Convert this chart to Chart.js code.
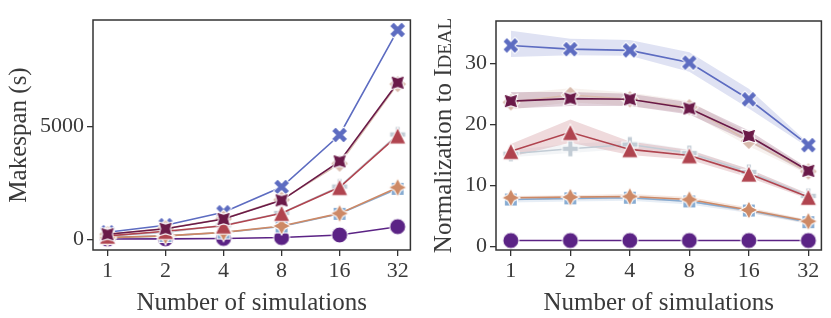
<!DOCTYPE html>
<html><head><meta charset="utf-8">
<script src="https://cdn.jsdelivr.net/npm/chart.js@4"></script>
<style>html,body{margin:0;padding:0;background:#fff;overflow:hidden}
#l{position:absolute;left:0;top:0}#r{position:absolute;left:420px;top:0}</style>
</head><body>
<canvas id="l" width="420" height="318"></canvas>
<canvas id="r" width="411" height="318"></canvas>
<script>
// ---------- data ----------
const xLabels = ['1', '2', '4', '8', '16', '32'];
const seriesNames = ['Ideal', 'Series B', 'Series C', 'Series D', 'Series E', 'Series F', 'Series G', 'Series H'];
const seriesColors = ['#5b2385', '#5d6cc1', '#86abd2', '#c2ccd5', '#d9bcae', '#cd8966', '#b0444f', '#6a1a48'];
const seriesMarkers = ['circle', 'x', 'square', 'plus', 'diamond', 'star', 'tri', 'starx'];

// Makespan (s)
const makespanIdeal = [10, 19, 38, 77, 192, 560];
const makespanB = [312, 625, 1200, 2320, 4630, 9290];
const makespanC = [73, 150, 300, 570, 1130, 2240];
const makespanD = [145, 309, 626, 1170, 2340, 4650];
const makespanE = [224, 478, 907, 1755, 3360, 6890];
const makespanF = [74, 154, 307, 593, 1150, 2300];
const makespanG = [150, 360, 600, 1160, 2310, 4600];
const makespanH = [226, 465, 900, 1730, 3460, 6950];

// Normalization to Ideal (mean)
const normIdeal = [1, 1, 1, 1, 1, 1];
const normB = [32.9, 32.3, 32.1, 30.1, 24.1, 16.6];
const normC = [7.7, 7.9, 8.0, 7.4, 5.9, 4.0];
const normD = [15.2, 16.0, 16.7, 15.3, 12.2, 8.3];
const normE = [23.6, 24.8, 24.1, 22.8, 17.3, 12.3];
const normF = [8.0, 8.1, 8.2, 7.7, 6.0, 4.15];
const normG = [15.6, 18.7, 15.9, 14.9, 11.9, 8.1];
const normH = [23.8, 24.2, 24.1, 22.6, 18.1, 12.4];

// Confidence bands (upper / lower)
const bandHiB = [35.3, 34.0, 33.8, 31.8, 25.8, 16.9];
const bandLoB = [31.0, 31.3, 31.2, 28.6, 22.6, 16.2];
const bandHiC = [8.0, 8.2, 8.3, 7.7, 6.2, 4.3];
const bandLoC = [7.2, 7.4, 7.5, 6.9, 5.5, 3.7];
const bandHiD = [15.8, 16.8, 17.4, 15.9, 12.7, 8.7];
const bandLoD = [14.6, 15.3, 16.0, 14.7, 11.6, 7.9];
const bandHiE = [25.0, 25.9, 25.2, 23.8, 18.5, 12.8];
const bandLoE = [22.4, 23.6, 23.0, 21.8, 16.4, 11.8];
const bandHiF = [8.3, 8.4, 8.6, 8.1, 6.4, 4.4];
const bandLoF = [7.6, 7.7, 7.8, 7.3, 5.6, 3.8];
const bandHiG = [16.8, 20.8, 17.2, 15.8, 12.7, 8.6];
const bandLoG = [14.7, 17.0, 15.0, 14.2, 11.3, 7.8];
const bandHiH = [25.3, 25.3, 25.0, 23.6, 19.0, 12.8];
const bandLoH = [22.6, 23.0, 23.0, 21.6, 17.1, 11.9];

const leftTicks = [0, 5000];
const rightTicks = [0, 10, 20, 30];

const makespanSeries = [makespanIdeal, makespanB, makespanC, makespanD, makespanE, makespanF, makespanG, makespanH];
const normSeries = [normIdeal, normB, normC, normD, normE, normF, normG, normH];
const bandHi = [null, bandHiB, bandHiC, bandHiD, bandHiE, bandHiF, bandHiG, bandHiH];
const bandLo = [null, bandLoB, bandLoC, bandLoD, bandLoE, bandLoF, bandLoG, bandLoH];

// ---------- styling ----------
const FONT = "'Liberation Serif', 'Times New Roman', serif";
const TEXT = '#3a3a3a';
const MS = 1.15; // marker scale

function marker(shape, color) {
  const S = 28, c = document.createElement('canvas');
  c.width = S; c.height = S;
  const g = c.getContext('2d');
  g.translate(S / 2, S / 2);
  g.scale(MS, MS);
  g.fillStyle = color; g.strokeStyle = '#ffffff'; g.lineWidth = 0.9; g.lineJoin = 'miter';
  g.beginPath();
  const poly = (pts, rot) => {
    const cr = Math.cos(rot || 0), sr = Math.sin(rot || 0);
    pts.forEach((p, i) => {
      const x = p[0] * cr - p[1] * sr, y = p[0] * sr + p[1] * cr;
      if (i === 0) g.moveTo(x, y); else g.lineTo(x, y);
    });
    g.closePath();
  };
  const plusPts = (a, t) => [[-t, -a], [t, -a], [t, -t], [a, -t], [a, t], [t, t], [t, a], [-t, a], [-t, t], [-a, t], [-a, -t], [-t, -t]];
  const starPts = (R, r, off) => {
    const p = [];
    for (let k = 0; k < 8; k++) {
      const ang = off + k * Math.PI / 4 - Math.PI / 2;
      const rr = k % 2 === 0 ? R : r;
      p.push([rr * Math.cos(ang), rr * Math.sin(ang)]);
    }
    return p;
  };
  switch (shape) {
    case 'circle': g.arc(0, 0, 7, 0, Math.PI * 2); break;
    case 'x': poly(plusPts(7.4, 2.5), Math.PI / 4); break;
    case 'plus': poly(plusPts(7, 2.3)); break;
    case 'square': poly([[-5.6, -5.6], [5.6, -5.6], [5.6, 5.6], [-5.6, 5.6]]); break;
    case 'diamond': poly([[0, -7.8], [7.8, 0], [0, 7.8], [-7.8, 0]]); break;
    case 'star': poly(starPts(8, 4, 0)); break;
    case 'starx': poly(starPts(8.5, 4.25, Math.PI / 4)); break;
    case 'tri': poly([[0, -7.2], [7.2, 7.2], [-7.2, 7.2]]); break;
  }
  g.fill(); g.stroke();
  return c;
}

function rgba(hex, a) {
  const n = parseInt(hex.slice(1), 16);
  return `rgba(${n >> 16},${(n >> 8) & 255},${n & 255},${a})`;
}
const pts = arr => arr.map((v, i) => ({ x: i, y: v }));

function lineDatasets(seriesArr, withBands) {
  const ds = [];
  seriesArr.forEach((arr, k) => {
    const col = seriesColors[k];
    ds.push({
      label: seriesNames[k], data: pts(arr), borderColor: col, backgroundColor: col,
      borderWidth: 1.6, pointStyle: marker(seriesMarkers[k], col), pointRadius: 8, pointHoverRadius: 8,
      fill: false, order: 20 - k, tension: 0
    });
  });
  if (withBands) {
    seriesArr.forEach((arr, k) => {
      if (!bandHi[k]) return;
      const col = seriesColors[k];
      ds.push({ label: seriesNames[k] + ' hi', data: pts(bandHi[k]), borderColor: 'rgba(0,0,0,0)', borderWidth: 1,
        backgroundColor: rgba(col, 0.2), pointRadius: 0, pointHoverRadius: 0, fill: '+1', order: 120 - k });
      ds.push({ label: seriesNames[k] + ' lo', data: pts(bandLo[k]), borderColor: 'rgba(0,0,0,0)', borderWidth: 1,
        backgroundColor: 'rgba(0,0,0,0)', pointRadius: 0, pointHoverRadius: 0, fill: false, order: 120 - k });
    });
  }
  return ds;
}

const boxPlugin = {
  id: 'box',
  afterDraw(chart) {
    const { ctx, chartArea: a } = chart;
    ctx.save(); ctx.strokeStyle = '#333'; ctx.lineWidth = 1.5;
    ctx.strokeRect(a.left, a.top, a.right - a.left, a.bottom - a.top);
    ctx.restore();
  }
};

function xScale() {
  return {
    type: 'linear', min: -0.25, max: 5.22,
    afterBuildTicks: s => { s.ticks = xLabels.map((_, i) => ({ value: i })); },
    afterFit: s => { s.height = 68; },
    ticks: { callback: v => xLabels[v], color: TEXT, font: { family: FONT, size: 22 }, padding: 2, maxRotation: 0, autoSkip: false },
    grid: { display: true, drawOnChartArea: false, drawTicks: true, tickLength: 6, color: '#333', lineWidth: 1.3 },
    border: { display: false },
    title: { display: true, text: 'Number of simulations', color: TEXT, font: { family: FONT, size: 25 }, padding: { top: 0, bottom: 0 } }
  };
}

function yScale(min, max, ticks, width, title) {
  return {
    type: 'linear', min, max,
    afterBuildTicks: s => { s.ticks = ticks.map(v => ({ value: v })); },
    afterFit: s => { s.width = width; },
    ticks: { callback: v => String(v), color: TEXT, font: { family: FONT, size: 22 }, padding: 3 },
    grid: { display: true, drawOnChartArea: false, drawTicks: true, tickLength: 6, color: '#333', lineWidth: 1.3 },
    border: { display: false },
    title: title ? { display: true, text: title, color: TEXT, font: { family: FONT, size: 25 }, padding: { top: 4, bottom: 0 } } : { display: false }
  };
}

const common = {
  responsive: false, animation: false, devicePixelRatio: 1,
  plugins: { legend: { display: false }, tooltip: { enabled: false } },
  events: []
};

new Chart(document.getElementById('l'), {
  type: 'line',
  data: { datasets: lineDatasets(makespanSeries, false) },
  options: Object.assign({}, common, {
    layout: { padding: { top: 20, right: 2, left: 0, bottom: 0 } },
    scales: { x: xScale(), y: yScale(-475, 9735, leftTicks, 93, 'Makespan (s)') }
  }),
  plugins: [boxPlugin]
});

const ytitlePlugin = {
  id: 'ytitle',
  afterDraw(chart) {
    const { ctx, chartArea: a } = chart;
    const big = `25px ${FONT}`, small = `19px ${FONT}`;
    const p1 = 'Normalization to I', p2 = 'DEAL';
    ctx.save();
    ctx.font = big; const w1 = ctx.measureText(p1).width;
    ctx.font = small; const w2 = ctx.measureText(p2).width;
    const total = w1 + w2;
    ctx.translate(23, (a.top + a.bottom) / 2);
    ctx.rotate(-Math.PI / 2);
    ctx.fillStyle = TEXT; ctx.textBaseline = 'alphabetic'; ctx.textAlign = 'left';
    ctx.font = big; ctx.fillText(p1, -total / 2, 8);
    ctx.font = small; ctx.fillText(p2, -total / 2 + w1, 8);
    ctx.restore();
  }
};

new Chart(document.getElementById('r'), {
  type: 'line',
  data: { datasets: lineDatasets(normSeries, true) },
  options: Object.assign({}, common, {
    layout: { padding: { top: 21, right: 9, left: 0, bottom: 0 } },
    scales: { x: xScale(), y: yScale(-0.55, 36.9, rightTicks, 76, null) }
  }),
  plugins: [boxPlugin, ytitlePlugin]
});
</script>
</body></html>
